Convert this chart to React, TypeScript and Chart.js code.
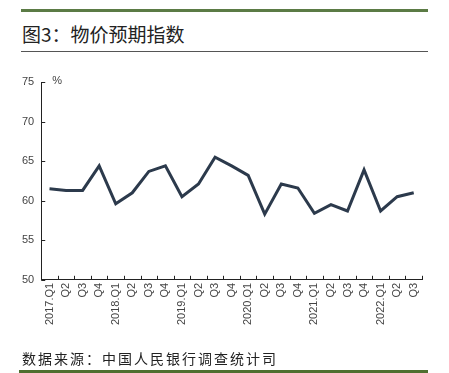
import React, { useEffect, useRef } from "react";
import { Chart, registerables } from "chart.js";

Chart.register(...registerables);

const categories = ["2017.Q1","Q2","Q3","Q4","2018.Q1","Q2","Q3","Q4","2019.Q1","Q2","Q3","Q4","2020.Q1","Q2","Q3","Q4","2021.Q1","Q2","Q3","Q4","2022.Q1","Q2","Q3"];
const priceExpectation = [61.5,61.3,61.3,64.4,59.6,61.0,63.7,64.4,60.5,62.1,65.5,64.4,63.2,58.3,62.1,61.6,58.4,59.5,58.7,63.9,58.7,60.5,61.0];
const yMin = 50;
const yMax = 75;
const yStep = 5;
const titleText = "图3：物价预期指数";
const sourceText = "数据来源：中国人民银行调查统计司";
const unitText = "%";

const tickFont = "'Liberation Sans', Arial, sans-serif";

const innerTicks = {
  id: "innerTicks",
  afterDraw(chart: any) {
    const { ctx, chartArea, scales } = chart;
    const x = scales.x;
    const y = scales.y;
    ctx.save();
    ctx.strokeStyle = "#222";
    ctx.lineWidth = 1;
    const n = categories.length;
    for (let i = 0; i < n; i++) {
      const px = i < n - 1 ? (x.getPixelForValue(i) + x.getPixelForValue(i + 1)) / 2 : chartArea.right;
      const xx = Math.round(px) + 0.5;
      ctx.beginPath();
      ctx.moveTo(xx, chartArea.bottom);
      ctx.lineTo(xx, chartArea.bottom - 4);
      ctx.stroke();
    }
    y.ticks.forEach((t: any) => {
      const py = Math.round(y.getPixelForValue(t.value)) + 0.5;
      ctx.beginPath();
      ctx.moveTo(chartArea.left, py);
      ctx.lineTo(chartArea.left + 4, py);
      ctx.stroke();
    });
    ctx.fillStyle = "#444";
    ctx.font = "11px " + tickFont;
    ctx.textAlign = "left";
    ctx.textBaseline = "middle";
    ctx.fillText(unitText, chartArea.left + 11, chartArea.top - 1);
    ctx.restore();
  },
};

export default function App() {
  const canvasRef = useRef<HTMLCanvasElement | null>(null);

  useEffect(() => {
    document.body.style.margin = "0";
    const canvas = canvasRef.current;
    if (!canvas) return;
    const chart = new Chart(canvas, {
      type: "line",
      data: {
        labels: categories,
        datasets: [
          {
            data: priceExpectation,
            borderColor: "#2c3a4c",
            borderWidth: 3,
            pointRadius: 0,
            tension: 0,
            fill: false,
          },
        ],
      },
      options: {
        animation: false,
        responsive: false,
        maintainAspectRatio: false,
        layout: { padding: { left: 15, right: 27, top: 82, bottom: 45 } },
        plugins: { legend: { display: false }, tooltip: { enabled: false }, title: { display: false } },
        scales: {
          x: {
            type: "category",
            offset: true,
            grid: { drawOnChartArea: false, drawTicks: false },
            border: { display: true, color: "#222", width: 1 },
            ticks: {
              autoSkip: false,
              maxRotation: 90,
              minRotation: 90,
              padding: 3,
              color: "#444",
              font: { size: 11, family: tickFont },
            },
          },
          y: {
            min: yMin,
            max: yMax,
            grid: { drawOnChartArea: false, drawTicks: false },
            border: { display: true, color: "#222", width: 1 },
            ticks: {
              stepSize: yStep,
              padding: 7,
              color: "#444",
              font: { size: 11, family: tickFont },
            },
          },
        },
      },
      plugins: [innerTicks],
    });
    return () => chart.destroy();
  }, []);

  return (
    <div style={{ position: "relative", width: 449, height: 373, background: "#fff", overflow: "hidden" }}>
      <div style={{ position: "absolute", left: 21, top: 9, width: 407, height: 3, background: "#5b7b45" }} />
      <div
        style={{
          position: "absolute",
          left: 22,
          top: 20,
          fontFamily: "'Noto Sans CJK SC', sans-serif",
          fontSize: 19,
          color: "#222",
          lineHeight: "28px",
          whiteSpace: "nowrap",
        }}
      >
        {titleText}
      </div>
      <div style={{ position: "absolute", left: 21, top: 51, width: 407, height: 1, background: "#555" }} />
      <canvas ref={canvasRef} width={449} height={373} style={{ position: "absolute", left: 0, top: 0, width: 449, height: 373 }} />
      <div
        style={{
          position: "absolute",
          left: 22,
          top: 349,
          fontFamily: "'Noto Sans CJK SC', sans-serif",
          fontSize: 14,
          letterSpacing: 2,
          color: "#222",
          lineHeight: "18px",
          whiteSpace: "nowrap",
        }}
      >
        {sourceText}
      </div>
      <div style={{ position: "absolute", left: 19, top: 370, width: 409, height: 3, background: "#4f6f30" }} />
    </div>
  );
}
